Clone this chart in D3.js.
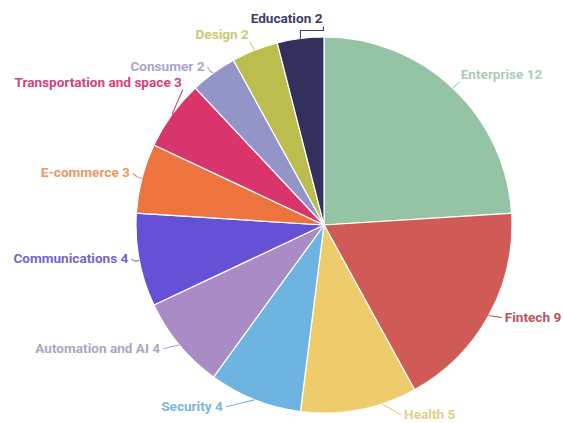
<!DOCTYPE html>
<html><head><meta charset="utf-8">
<script src="https://cdn.jsdelivr.net/npm/d3@7"></script>
<style>body{margin:0;background:#fff}svg{display:block}</style>
</head><body>
<svg id="chart" width="563" height="423"></svg>
<script>
// Data
const categories = ["Enterprise","Fintech","Health","Security","Automation and AI","Communications","E-commerce","Transportation and space","Consumer","Design","Education"];
const values = [12,9,5,4,4,4,3,3,2,2,2];
const sliceColors = ["#95c4a4","#d05a56","#efcc6b","#6db4e0","#a98bc5","#6650d5","#ee743f","#d9356c","#9394c7","#bcbd4f","#33305e"];
const labelColors = ["#a9cdb6","#b85560","#e4cf8a","#7db7d9","#b1a5c4","#7566c7","#ea9868","#d3437c","#a8a7cc","#c9cc72","#3f3c68"];

// Layout (not data): label placement relative to slice edge point
const labelLayout = [
  {t:0.5, dx:8,  dy:-9,  anchor:"start"},
  {t:0.5, dx:16, dy:6,   anchor:"start"},
  {t:0.3, dx:22, dy:15,  anchor:"start"},
  {t:0.5, dx:-32,dy:11,  anchor:"end"},
  {t:0.5, dx:-19,dy:8,   anchor:"end"},
  {t:0.5, dx:-11,dy:3,   anchor:"end"},
  {t:0.5, dx:-12,dy:-1,  anchor:"end"},
  {t:0.5, dx:10, dy:-28, anchor:"end"},
  {t:0.5, dx:-9, dy:-2,  anchor:"end"},
  {t:0.5, dx:-6, dy:-11, anchor:"end"},
  {t:0.5, dx:22, dy:-15, anchor:"end"}
];

const svg = d3.select("#chart");
const cx = 324, cy = 225, R = 188;
const g = svg.append("g").attr("transform", `translate(${cx},${cy})`);

const data = categories.map((c,i)=>({name:c, value:values[i], i}));
const pie = d3.pie().value(d=>d.value).sort(null);
const arcs = pie(data);
const arc = d3.arc().innerRadius(0).outerRadius(R);

g.selectAll("path.slice").data(arcs).join("path")
  .attr("class","slice")
  .attr("d", arc)
  .attr("fill", d=>sliceColors[d.data.i])
  .attr("stroke","#fff").attr("stroke-width",1.2);

const line = d3.line().curve(d3.curveBasis);
arcs.forEach(d=>{
  const L = labelLayout[d.data.i];
  const a = d.startAngle + L.t*(d.endAngle-d.startAngle);
  const px = R*Math.sin(a), py = -R*Math.cos(a);
  const tx = px + L.dx, ty = py + L.dy;
  let ax, ay;
  if (L.dy < -8) { ax = tx + (L.anchor==="end"?1:-1); ay = ty + 3; }
  else { ax = tx + (L.anchor==="end"?3:-3); ay = ty - 4; }
  const mx = (px+ax)/2, my = (py+ay)/2;
  let pts;
  if (d.data.i === 10) {
    pts = [[px,py],[px,ay+4],[ax,ay+4],[ax,ay]];
    g.append("path").attr("d", d3.line()(pts)).attr("fill","none")
      .attr("stroke", labelColors[d.data.i]).attr("stroke-width",1.1);
  } else {
    pts = [[px,py],[mx, my + (Math.abs(L.dy)<4?2:0)],[ax,ay]];
    g.append("path").attr("d", line(pts)).attr("fill","none")
      .attr("stroke", labelColors[d.data.i]).attr("stroke-width",1.1);
  }
  g.append("text").attr("x",tx).attr("y",ty)
    .attr("text-anchor",L.anchor)
    .attr("font-family","Roboto, 'Open Sans', sans-serif")
    .attr("font-weight",700).attr("font-size","13.6px")
    .attr("fill", labelColors[d.data.i])
    .text(`${d.data.name} ${d.data.value}`);
});
</script>
</body></html>
